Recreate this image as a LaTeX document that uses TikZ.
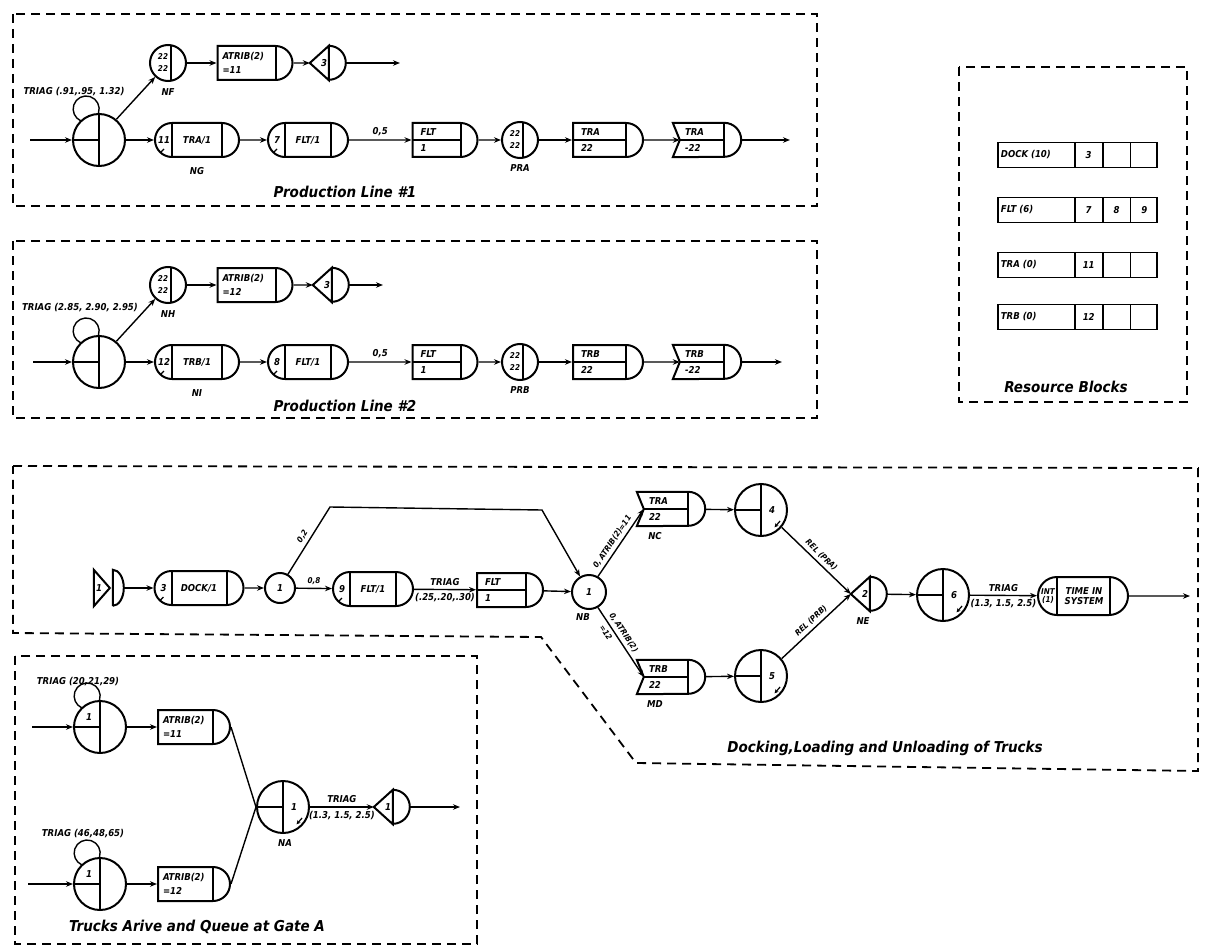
\documentclass[tikz,border=0pt]{standalone}
\usepackage{fontspec}
\setmainfont{DejaVu Sans Condensed}
\usepackage{tikz}
\usetikzlibrary{arrows.meta, positioning, shapes.misc, shapes.multipart}

\begin{document}
\begin{tikzpicture}[
    x=1pt, y=1pt,
    every node/.style={font=\bfseries\itshape\fontsize{9.5}{10}\selectfont},
    txt/.style={shape=rectangle, draw=none, fill=none, inner sep=0pt, minimum size=0pt, align=left},
    small/.style={font=\bfseries\itshape\fontsize{8}{8.5}\selectfont},
    ttl/.style={font=\bfseries\itshape\fontsize{15}{16}\selectfont},
    group/.style={draw, line width=1.8pt, dash pattern=on 9pt off 6pt},
    arrow/.style={line width=1.4pt, -{Stealth[length=7pt, width=5.5pt]}},
    link/.style={line width=1.4pt},
    create/.style={circle, draw, line width=2pt, minimum size=52pt, inner sep=0pt,
        path picture={
            \draw[line width=2pt] (path picture bounding box.north) -- (path picture bounding box.south)
                (path picture bounding box.west) -- (path picture bounding box.center);
            \node[txt] at ([shift={(-11pt,10pt)}]path picture bounding box.center) {#1};
        }},
    create/.default={},
    sel/.style={circle, draw, line width=2pt, minimum size=52pt, inner sep=0pt,
        path picture={
            \draw[line width=2pt] (path picture bounding box.north) -- (path picture bounding box.south)
                (path picture bounding box.west) -- (path picture bounding box.center);
            \draw[line width=1.2pt, -{Stealth[length=4pt, width=4pt]}] ([shift={(-30:22pt)}]path picture bounding box.center)
                -- ([shift={(-52:22pt)}]path picture bounding box.center);
            \node[txt] at ([xshift=11pt]path picture bounding box.center) {#1};
        }},
    queue/.style 2 args={circle, draw, line width=2pt, minimum size=36pt, inner sep=0pt,
        path picture={
            \draw[line width=2pt] ([xshift=3pt]path picture bounding box.north) -- ([xshift=3pt]path picture bounding box.south);
            \node[txt, small] at ([shift={(-5pt,6pt)}]path picture bounding box.center) {#1};
            \node[txt, small] at ([shift={(-5pt,-6pt)}]path picture bounding box.center) {#2};
        }},
    goon/.style={circle, draw, line width=2pt, minimum size=30pt, inner sep=0pt},
    await/.style 2 args={rounded rectangle, draw, line width=2pt, minimum height=34pt, inner sep=0pt,
        path picture={
            \draw[line width=2pt] ([xshift=17pt]path picture bounding box.north west) -- ([xshift=17pt]path picture bounding box.south west)
                ([xshift=-17pt]path picture bounding box.north east) -- ([xshift=-17pt]path picture bounding box.south east);
            \draw[line width=1.2pt] ([shift={(4pt,3pt)}]path picture bounding box.south west) -- ++(5pt,5pt);
            \node[txt] at ([xshift=9pt]path picture bounding box.west) {#1};
            \node[txt] at (path picture bounding box.center) {#2};
        }},
    assign/.style 2 args={rounded rectangle, rounded rectangle left arc=none, draw, line width=2pt,
        minimum height=34pt, inner sep=0pt,
        path picture={
            \draw[line width=2pt] ([xshift=-17pt]path picture bounding box.north east) -- ([xshift=-17pt]path picture bounding box.south east);
            \node[txt, anchor=west] at ([shift={(4pt,6pt)}]path picture bounding box.west) {#1};
            \node[txt, anchor=west] at ([shift={(4pt,-7pt)}]path picture bounding box.west) {#2};
        }},
    freed/.style 2 args={rounded rectangle, rounded rectangle left arc=none, draw, line width=2pt,
        minimum height=34pt, inner sep=0pt,
        path picture={
            \draw[line width=2pt] ([xshift=-17pt]path picture bounding box.north east) -- ([xshift=-17pt]path picture bounding box.south east)
                (path picture bounding box.west) -- ([xshift=-17pt]path picture bounding box.east);
            \node[txt, anchor=west] at ([shift={(7pt,8pt)}]path picture bounding box.west) {#1};
            \node[txt, anchor=west] at ([shift={(7pt,-8pt)}]path picture bounding box.west) {#2};
        }},
    alter/.style={rectangle, draw=none, minimum width=68pt, minimum height=34pt, inner sep=0pt,
        text width=44pt, align=left, font=\bfseries\itshape\fontsize{9.5}{16}\selectfont,
        append after command={\pgfextra{
            \draw[line width=2pt] (\tikzlastnode.north west) -- ([xshift=-17pt]\tikzlastnode.north east)
                arc[start angle=90, end angle=-90, radius=17pt] -- (\tikzlastnode.south west)
                -- ([xshift=7pt]\tikzlastnode.west) -- cycle;
            \draw[line width=2pt] ([xshift=-17pt]\tikzlastnode.north east) -- ([xshift=-17pt]\tikzlastnode.south east)
                ([xshift=7pt]\tikzlastnode.west) -- ([xshift=-17pt]\tikzlastnode.east);
        }}},
    term/.style={rectangle, draw=none, minimum width=36pt, minimum height=34pt, inner sep=0pt,
        text width=14pt, align=left,
        append after command={\pgfextra{
            \draw[line width=2pt] (\tikzlastnode.west) -- ([xshift=19pt]\tikzlastnode.north west)
                -- ([xshift=19pt]\tikzlastnode.south west) -- cycle
                ([xshift=19pt]\tikzlastnode.north west) arc[start angle=90, end angle=-90, radius=17pt];
        }}},
    enter/.style={rectangle, draw=none, minimum width=30pt, minimum height=36pt, inner sep=0pt,
        text width=26pt, align=left,
        append after command={\pgfextra{
            \draw[line width=2pt] (\tikzlastnode.north west) -- ([xshift=16pt]\tikzlastnode.west)
                -- (\tikzlastnode.south west) -- cycle
                ([xshift=19pt]\tikzlastnode.south west) -- ([xshift=19pt]\tikzlastnode.north west)
                arc[start angle=90, end angle=-90, x radius=11pt, y radius=18pt];
        }}},
    colct/.style 2 args={rounded rectangle, draw, line width=2pt, minimum height=38pt, inner sep=0pt,
        path picture={
            \draw[line width=2pt] ([xshift=19pt]path picture bounding box.north west) -- ([xshift=19pt]path picture bounding box.south west)
                ([xshift=-18pt]path picture bounding box.north east) -- ([xshift=-18pt]path picture bounding box.south east);
            \node[txt, small, align=center] at ([xshift=10pt]path picture bounding box.west) {#1};
            \node[txt, align=center] at ([xshift=1pt]path picture bounding box.center) {#2};
        }},
    res/.style={rectangle split, rectangle split horizontal, rectangle split parts=4, draw, line width=1.8pt,
        inner xsep=3pt, inner ysep=6pt, text height=9pt, text depth=4pt, anchor=west}
]
\useasboundingbox (0,0) rectangle (1210,-947);

% Production Line #1
\draw[group] (13,-14) rectangle (817,-206);
\node[ttl] (pl1) at (345,-192) {Production Line \#1};

\coordinate (c1in) at (30,-140);
\node[create] (c1) at (99,-140) {};
\node (c1t) at (74,-92) {TRIAG (.91,.95, 1.32)};
\node[queue={22}{22}] (nf) at (168,-63) {};
\node[below=3pt of nf] (nfl) {NF};
\node[assign={ATRIB(2)}{=11}, minimum width=75pt] (a1) at (255,-63) {};
\node[term] (t1) at (328,-63) {3};
\coordinate (o1) at (400,-63);

\node[await={11}{TRA/1}, minimum width=84pt] (ng) at (197,-140) {};
\node[below=6pt of ng] (ngl) {NG};
\node[await={7}{FLT/1}, minimum width=80pt] (fl1) at (308,-140) {};
\node[freed={FLT}{1}, minimum width=65pt] (fr1) at (445,-140) {};
\node[queue={22}{22}] (pra) at (520,-140) {};
\node[below=2pt of pra] (pral) {PRA};
\node[freed={TRA}{22}, minimum width=70pt] (tr1) at (608,-140) {};
\node[alter] (tr2) at (707,-140) {TRA\\-22};
\coordinate (o2) at (790,-140);

\draw[arrow] (c1in) -- (c1);
\draw[link] (c1.91) arc[start angle=-18, end angle=245, radius=13pt];
\draw[arrow] (c1.50) -- (nf);
\draw[arrow] (nf) -- (a1);
\draw[arrow] (a1) -- (t1);
\draw[arrow] (t1) -- (o1);
\draw[arrow] (c1) -- (ng);
\draw[arrow] (ng) -- (fl1);
\draw[arrow] (fl1) -- node[above] {0,5} (fr1);
\draw[arrow] (fr1) -- (pra);
\draw[arrow] (pra) -- (tr1);
\draw[arrow] (tr1) -- ([xshift=7pt]tr2.west);
\draw[arrow] (tr2) -- (o2);

% Production Line #2
\draw[group] (13,-241) rectangle (817,-418);
\node[ttl] (pl2) at (345,-406) {Production Line \#2};

\coordinate (c2in) at (33,-362);
\node[create] (c2) at (99,-362) {};
\node (c2t) at (80,-308) {TRIAG (2.85, 2.90, 2.95)};
\node[queue={22}{22}] (nh) at (168,-285) {};
\node[below=3pt of nh] (nhl) {NH};
\node[assign={ATRIB(2)}{=12}, minimum width=75pt] (a2) at (255,-285) {};
\node[term] (t2) at (331,-285) {3};
\coordinate (o3) at (383,-285);

\node[await={12}{TRB/1}, minimum width=84pt] (ni) at (197,-362) {};
\node[below=6pt of ni] (nil) {NI};
\node[await={8}{FLT/1}, minimum width=80pt] (fl2) at (308,-362) {};
\node[freed={FLT}{1}, minimum width=65pt] (fr2) at (445,-362) {};
\node[queue={22}{22}] (prb) at (520,-362) {};
\node[below=2pt of prb] (prbl) {PRB};
\node[freed={TRB}{22}, minimum width=70pt] (tr3) at (608,-362) {};
\node[alter] (tr4) at (707,-362) {TRB\\-22};
\coordinate (o4) at (782,-362);

\draw[arrow] (c2in) -- (c2);
\draw[link] (c2.91) arc[start angle=-18, end angle=245, radius=13pt];
\draw[arrow] (c2.50) -- (nh);
\draw[arrow] (nh) -- (a2);
\draw[arrow] (a2) -- (t2);
\draw[arrow] (t2) -- (o3);
\draw[arrow] (c2) -- (ni);
\draw[arrow] (ni) -- (fl2);
\draw[arrow] (fl2) -- node[above] {0,5} (fr2);
\draw[arrow] (fr2) -- (prb);
\draw[arrow] (prb) -- (tr3);
\draw[arrow] (tr3) -- ([xshift=7pt]tr4.west);
\draw[arrow] (tr4) -- (o4);

% Resource Blocks
\draw[group] (959,-67) rectangle (1187,-402);
\node[ttl] (rbt) at (1066,-387) {Resource Blocks};
\node[res] (r1) at (997,-155) {\makebox[70pt][l]{DOCK (10)}\nodepart{two}\makebox[20pt]{3}\nodepart{three}\makebox[20pt]{}\nodepart{four}\makebox[20pt]{}};
\node[res] (r2) at (997,-210) {\makebox[70pt][l]{FLT (6)}\nodepart{two}\makebox[20pt]{7}\nodepart{three}\makebox[20pt]{8}\nodepart{four}\makebox[20pt]{9}};
\node[res] (r3) at (997,-265) {\makebox[70pt][l]{TRA (0)}\nodepart{two}\makebox[20pt]{11}\nodepart{three}\makebox[20pt]{}\nodepart{four}\makebox[20pt]{}};
\node[res] (r4) at (997,-317) {\makebox[70pt][l]{TRB (0)}\nodepart{two}\makebox[20pt]{12}\nodepart{three}\makebox[20pt]{}\nodepart{four}\makebox[20pt]{}};

% Docking, loading and unloading
\draw[group] (13,-466) -- (1198,-468) -- (1198,-771) -- (636,-763) -- (541,-637) -- (13,-633) -- cycle;
\node[ttl] (dkt) at (885,-748) {Docking,Loading and Unloading of Trucks};

\node[enter] (en) at (109,-588) {1};
\node[await={3}{DOCK/1}, minimum width=89pt] (dk) at (199,-588) {};
\node[goon] (g1) at (280,-588) {1};
\node[await={9}{FLT/1}, minimum width=80pt] (fl3) at (373,-589) {};
\node[freed={FLT}{1}, minimum width=66pt] (ff) at (510,-590) {};
\node[goon, minimum size=34pt] (nb) at (589,-592) {1};
\node (nbl) at (583,-617) {NB};
\coordinate (k1) at (330,-507);
\coordinate (k2) at (542,-510);
\node[alter] (mc) at (671,-509) {TRA\\22};
\node (ncl) at (655,-536) {NC};
\node[alter] (md) at (671,-677) {TRB\\22};
\node (mdl) at (655,-704) {MD};
\node[sel={4}] (c4) at (761,-510) {};
\node[sel={5}] (c5) at (761,-676) {};
\node[term] (ne) at (869,-594) {2};
\node (nel) at (863,-621) {NE};
\node[sel={6}] (c6) at (943,-595) {};
\node[colct={INT\\(1)}{TIME IN\\SYSTEM}, minimum width=90pt] (col) at (1083,-596) {};
\coordinate (o5) at (1190,-596);

\draw[arrow] (en) -- (dk);
\draw[arrow] (dk) -- (g1);
\draw[arrow] (g1) -- node[above, small] {0,8} (fl3);
\draw[arrow] (fl3) -- node[above] {TRIAG} node[below] {(.25,.20,.30)} (ff);
\draw[arrow] (ff) -- (nb);
\draw[arrow] (g1.60) -- node[sloped, above, small] {0,2} (k1) -- (k2) -- (nb.120);
\draw[arrow] (nb.60) -- node[sloped, above, small, pos=.45] {0, ATRIB(2)=11} ([xshift=7pt]mc.west);
\draw[arrow] (nb.-60) -- node[sloped, above, small, pos=.42] {0, ATRIB(2)} node[sloped, below, small, pos=.3] {=12} ([xshift=7pt]md.west);
\draw[arrow] (mc) -- (c4);
\draw[arrow] (md) -- (c5);
\draw[arrow] (c4.-40) -- node[sloped, above, small] {REL (PRA)} (ne.west);
\draw[arrow] (c5.40) -- node[sloped, above, small] {REL (PRB)} (ne.west);
\draw[arrow] (ne) -- (c6);
\draw[arrow] (c6) -- node[above] {TRIAG} node[below] {(1.3, 1.5, 2.5)} (col);
\draw[arrow] (col) -- (o5);

% Trucks arrive at gate A
\draw[group] (15,-656) rectangle (477,-944);
\node[ttl] (gat) at (197,-927) {Trucks Arive and Queue at Gate A};

\coordinate (ia) at (32,-727);
\node[create={1}] (ca) at (100,-727) {};
\node (cat) at (78,-682) {TRIAG (20,21,29)};
\node[assign={ATRIB(2)}{=11}, minimum width=72pt] (aa) at (194,-727) {};
\coordinate (ib) at (28,-884);
\node[create={1}] (cb) at (100,-884) {};
\node (cbt) at (83,-834) {TRIAG (46,48,65)};
\node[assign={ATRIB(2)}{=12}, minimum width=72pt] (ab) at (194,-884) {};
\node[sel={1}] (na) at (283,-807) {};
\node (nal) at (285,-843) {NA};
\node[term] (ta) at (392,-807) {1};
\coordinate (oa) at (460,-807);

\draw[arrow] (ia) -- (ca);
\draw[link] (ca.91) arc[start angle=-18, end angle=245, radius=13pt];
\draw[arrow] (ib) -- (cb);
\draw[link] (cb.91) arc[start angle=-18, end angle=245, radius=13pt];
\draw[arrow] (ca) -- (aa);
\draw[arrow] (cb) -- (ab);
\draw[link] (aa.east) -- (na.west);
\draw[link] (ab.east) -- (na.west);
\draw[arrow] (na) -- node[above] {TRIAG} node[below] {(1.3, 1.5, 2.5)} (ta);
\draw[arrow] (ta) -- (oa);

\end{tikzpicture}
\end{document}
